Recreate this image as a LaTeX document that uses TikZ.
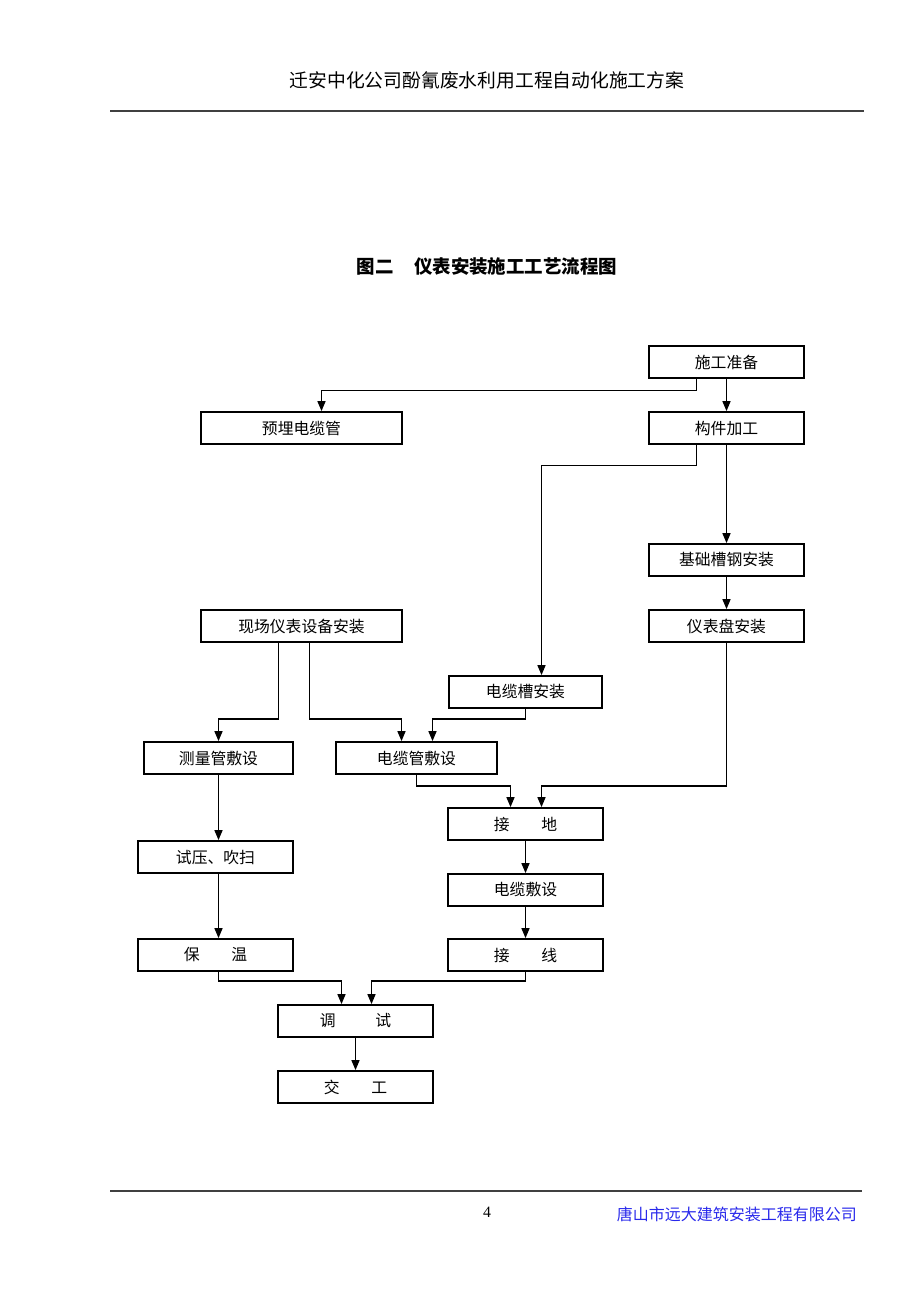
\documentclass[tikz,border=0pt]{standalone}
\usepackage{fontspec}
\setmainfont{Liberation Serif}
\newfontfamily\cjk{Noto Sans CJK SC}
\usetikzlibrary{arrows.meta, positioning}
\definecolor{footblue}{RGB}{40,40,235}
\tikzstyle{box} = [draw, line width=1.1pt, minimum height=0.64cm, inner sep=0pt, font=\cjk\fontsize{9}{11}\selectfont]
\tikzstyle{line} = [draw, line width=0.6pt]
\tikzstyle{arr} = [line, -{Triangle[width=4.6pt, length=5.6pt]}]
\tikzstyle{rule} = [draw, line width=1.2pt, black!75]

\begin{document}
\begin{tikzpicture}[x=0.02cm, y=-0.02cm]
			\useasboundingbox (0,0) rectangle (920,1302);

			% page head and foot
			\node [font=\cjk\fontsize{10.7}{12}\selectfont] (head) at (487,80) {迁安中化公司酚氰废水利用工程自动化施工方案};
			\path [rule] (110,111) -- (864,111);
			\node [font=\cjk\bfseries\fontsize{10.5}{12}\selectfont] (fig) at (487,267) {图二\hspace{1.1em}仪表安装施工工艺流程图};
			\path [rule] (110,1191) -- (862,1191);
			\node [font=\fontsize{9}{11}\selectfont] (page) at (487,1212) {4};
			\node [font=\cjk\fontsize{9.1}{11}\selectfont, text=footblue, anchor=east] (firm) at (863,1214) {唐山市远大建筑安装工程有限公司};

			% boxes
			\node [box, minimum width=3.1cm] (sg) at (726.5,362) {施工准备};
			\node [box, minimum width=4.02cm] (ym) at (301.5,428) {预埋电缆管};
			\node [box, minimum width=3.1cm] (gj) at (726.5,428) {构件加工};
			\node [box, minimum width=3.1cm] (jc) at (726.5,560) {基础槽钢安装};
			\node [box, minimum width=3.1cm] (yb) at (726.5,626) {仪表盘安装};
			\node [box, minimum width=4.02cm] (xc) at (301.5,626) {现场仪表设备安装};
			\node [box, minimum width=3.06cm] (dlc) at (525.5,692) {电缆槽安装};
			\node [box, minimum width=2.98cm] (clg) at (218.5,758) {测量管敷设};
			\node [box, minimum width=3.22cm] (dlg) at (416.5,758) {电缆管敷设};
			\node [box, minimum width=3.1cm] (jd) at (525.5,824) {接\hspace{2em}地};
			\node [box, minimum width=3.1cm] (sy) at (215.5,857) {试压、吹扫};
			\node [box, minimum width=3.1cm] (dls) at (525.5,890) {电缆敷设};
			\node [box, minimum width=3.1cm] (bw) at (215.5,955) {保\hspace{2em}温};
			\node [box, minimum width=3.1cm] (jx) at (525.5,955) {接\hspace{2em}线};
			\node [box, minimum width=3.1cm] (ts) at (355.5,1021) {调\hspace{2.5em}试};
			\node [box, minimum width=3.1cm] (jg) at (355.5,1087) {交\hspace{2em}工};

			% connectors
			\path [arr] (sg.south) -- (gj.north);
			\path [arr] ([shift={(-30,0)}]sg.south) -- ++(0,12) -| ([shift={(20,0)}]ym.north);
			\path [arr] ([shift={(-30,0)}]gj.south) -- ++(0,21) -| ([shift={(16,0)}]dlc.north);
			\path [arr] (gj.south) -- (jc.north);
			\path [arr] (jc.south) -- (yb.north);
			\path [arr] (yb.south) -- ++(0,143) -| ([shift={(16,0)}]jd.north);
			\path [arr] ([shift={(-23,0)}]xc.south) -- ++(0,76) -| (clg.north);
			\path [arr] ([shift={(8,0)}]xc.south) -- ++(0,76) -| ([shift={(-15,0)}]dlg.north);
			\path [arr] (dlc.south) -- ++(0,10) -| ([shift={(16,0)}]dlg.north);
			\path [arr] (dlg.south) -- ++(0,11) -| ([shift={(-15,0)}]jd.north);
			\path [arr] (clg.south) -- (clg.south |- sy.north);
			\path [arr] (clg.south |- sy.south) -- (clg.south |- bw.north);
			\path [arr] (jd.south) -- (dls.north);
			\path [arr] (dls.south) -- (jx.north);
			\path [arr] (clg.south |- bw.south) -- ++(0,9) -| ([shift={(-14,0)}]ts.north);
			\path [arr] (jx.south) -- ++(0,9) -| ([shift={(16,0)}]ts.north);
			\path [arr] (ts.south) -- (jg.north);
		\end{tikzpicture}
\end{document}
